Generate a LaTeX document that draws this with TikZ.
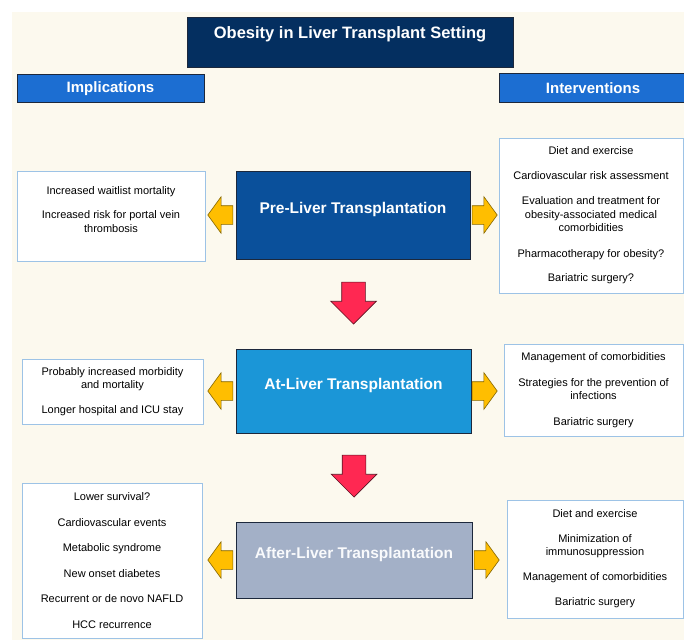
\documentclass[tikz,border=0pt]{standalone}
\usepackage{fontspec}
\setmainfont{Liberation Sans}
\usetikzlibrary{shapes.arrows}
\usetikzlibrary{calc}

\definecolor{creambg}{RGB}{252,249,238}
\definecolor{titleblue}{RGB}{4,47,96}
\definecolor{headblue}{RGB}{28,110,210}
\definecolor{preblue}{RGB}{10,80,155}
\definecolor{atblue}{RGB}{27,150,215}
\definecolor{aftergray}{RGB}{163,176,199}
\definecolor{darkline}{RGB}{28,40,60}
\definecolor{infoline}{RGB}{157,195,230}
\definecolor{sideyellow}{RGB}{255,190,0}
\definecolor{sideline}{RGB}{130,100,0}
\definecolor{downred}{RGB}{255,40,82}
\definecolor{downline}{RGB}{90,20,35}

\begin{document}
\begin{tikzpicture}[x=1pt,y=-1pt,
		stage/.style={draw=darkline, line width=1pt, text=white, inner sep=0pt,
			font=\fontsize{15.5}{18}\selectfont\bfseries, text height=11pt, text depth=14pt},
		headbox/.style={draw=darkline, fill=headblue, line width=1pt, text=white, inner sep=0pt,
			font=\fontsize{15}{18}\selectfont\bfseries},
		info/.style={draw=infoline, fill=white, line width=0.9pt, align=center, inner sep=0pt,
			font=\fontsize{11}{13.5}\selectfont},
		sidearrow/.style={single arrow, draw=sideline, fill=sideyellow, line width=0.6pt,
			inner xsep=3pt, inner ysep=9pt, text height=0pt, text depth=0pt, text width=0pt, anchor=tip,
			single arrow head extend=9pt, single arrow tip angle=108, minimum height=25pt},
		downarrow/.style={single arrow, draw=downline, fill=downred, line width=0.6pt,
			inner xsep=11.5pt, inner ysep=3pt, text height=0pt, text depth=0pt, text width=0pt, anchor=tip,
			single arrow head extend=11pt, minimum height=42pt, shape border rotate=270}]
			
		\useasboundingbox (0,0) rectangle (684,639);
		\fill[creambg] (12,12) rectangle (690,645);
		
		\node[stage, fill=titleblue, minimum width=326pt, minimum height=50pt,
			font=\fontsize{16.5}{19}\selectfont\bfseries, text height=12pt, text depth=20pt] (title) at (350,43) {Obesity in Liver Transplant Setting};
		
		\node[headbox, minimum width=187pt, minimum height=28pt] (impl) at (110.5,89) {Implications};
		\node[headbox, minimum width=188pt, minimum height=29pt] (interv) at (593,88.5) {Interventions};
		
		\node[stage, fill=preblue, minimum width=234pt, minimum height=88pt] (pre) at (353,215) {Pre-Liver Transplantation};
		\node[stage, fill=atblue, minimum width=235pt, minimum height=84pt] (at) at (353.5,391) {At-Liver Transplantation};
		\node[stage, fill=aftergray, text=white!94!aftergray, minimum width=236pt, minimum height=76pt] (after) at (354,560) {After-Liver Transplantation};
		
		\node[info, minimum width=188pt, minimum height=90pt] (preL) at (111,216) {Increased waitlist mortality\\[11pt]Increased risk for portal vein\\thrombosis\\\mbox{}};
		\node[info, minimum width=184pt, minimum height=155pt] (preR) at (591,215.5) {Diet and exercise\\[11pt]Cardiovascular risk assessment\\[12pt]Evaluation and treatment for\\obesity-associated medical\\comorbidities\\[12pt]Pharmacotherapy for obesity?\\[11pt]Bariatric surgery?};
		
		\node[info, minimum width=181pt, minimum height=65pt] (atL) at (112.5,391.5) {Probably increased morbidity\\and mortality\\[11pt]Longer hospital and ICU stay};
		\node[info, minimum width=179pt, minimum height=92pt] (atR) at (593.5,390) {Management of comorbidities\\[12pt]Strategies for the prevention of\\infections\\[12pt]Bariatric surgery};
		
		\node[info, minimum width=180pt, minimum height=155pt] (afterL) at (112,560.5) {Lower survival?\\[12pt]Cardiovascular events\\[12pt]Metabolic syndrome\\[12pt]New onset diabetes\\[12pt]Recurrent or de novo NAFLD\\[12pt]HCC recurrence};
		\node[info, minimum width=176pt, minimum height=118pt] (afterR) at (595,559) {Diet and exercise\\[11pt]Minimization of\\immunosuppression\\[11pt]Management of comorbidities\\[12pt]Bariatric surgery};
		
		\node[sidearrow, shape border rotate=180] (preLa) at ($(preL.east |- pre.west)+(2,0)$) {};
		\node[sidearrow] (preRa) at ($(preR.west |- pre.east)+(-1,0)$) {};
		\node[sidearrow, shape border rotate=180] (atLa) at ($(atL.east |- at.west)+(4,0)$) {};
		\node[sidearrow] (atRa) at ($(atR.west |- at.east)+(-6,0)$) {};
		\node[sidearrow, shape border rotate=180] (afterLa) at ($(afterL.east |- after.west)+(5,0)$) {};
		\node[sidearrow] (afterRa) at ($(afterR.west |- after.east)+(-7,0)$) {};
		
		\node[downarrow] (down1) at ($(at.north)+(0,-24)$) {};
		\node[downarrow] (down2) at ($(after.north)+(0,-24)$) {};
		
		\end{tikzpicture}
\end{document}
